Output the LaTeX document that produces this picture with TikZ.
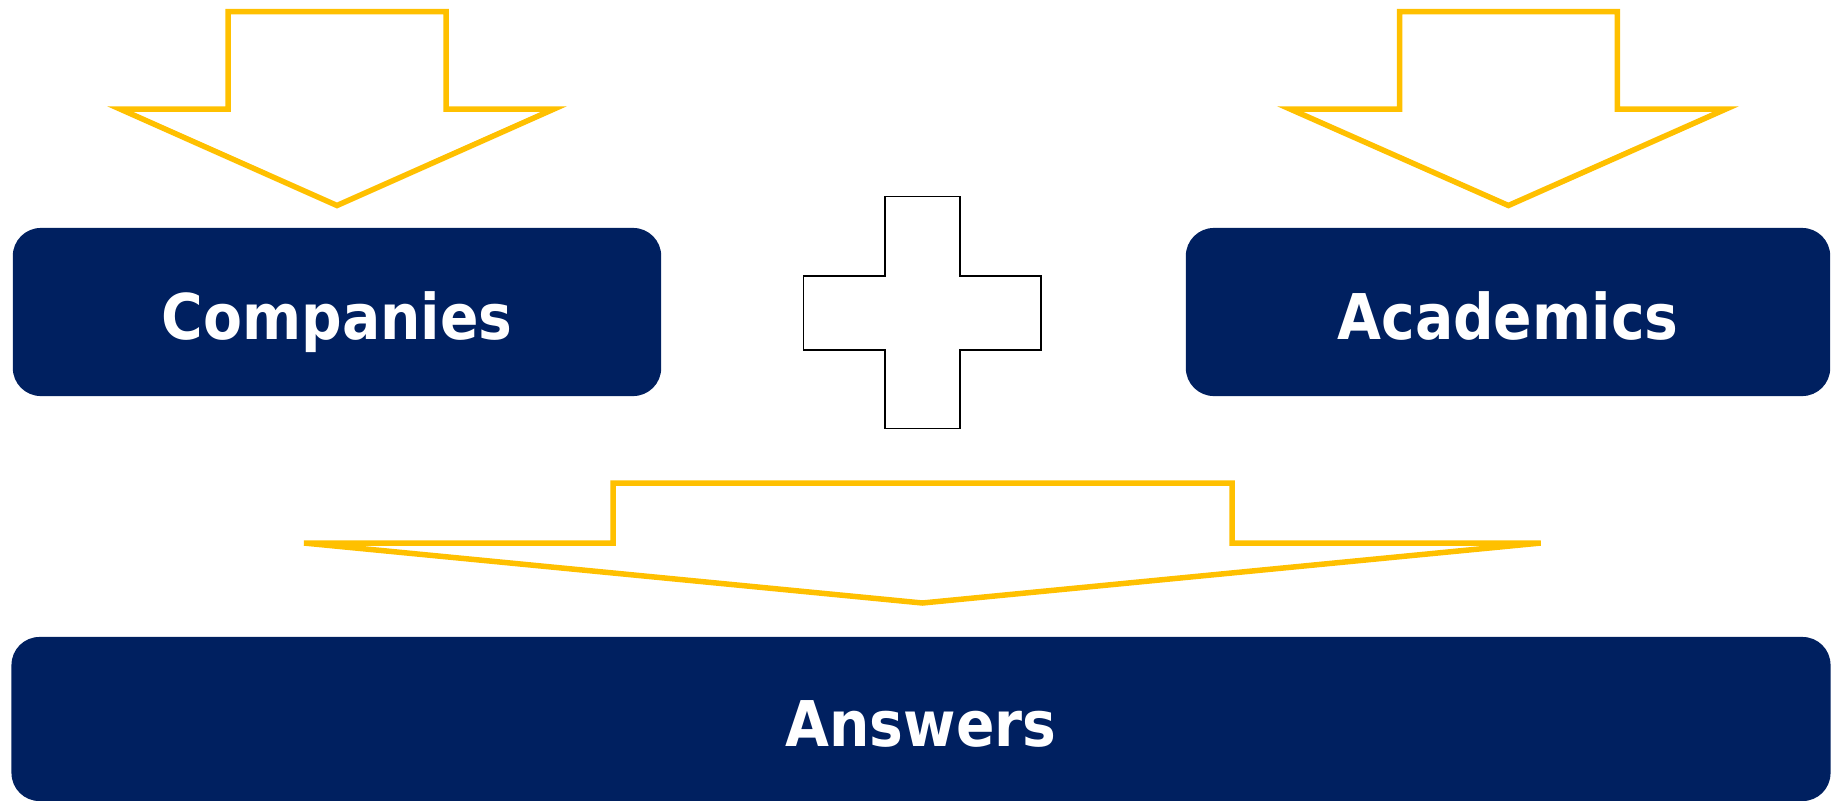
\documentclass[tikz,border=0pt]{standalone}
\usepackage{fontspec}
\newfontfamily\boxfont{DejaVu Sans Condensed}[BoldFont={DejaVu Sans Condensed Bold}]
\definecolor{navy}{HTML}{002060}
\definecolor{gold}{HTML}{FFC000}
\begin{document}
\begin{tikzpicture}[x=0.01cm,y=-0.01cm,
  block/.style={fill=navy, rounded corners=0.28cm, inner sep=0pt, text=white,
    font=\boxfont\bfseries\fontsize{17.93}{20}\selectfont,
    text height=0.54cm, text depth=0pt, align=center},
  bigarrow/.style={draw=gold, line width=0.055cm, fill=white},
  plusshape/.style={draw=black, line width=0.45pt, fill=white}]
\useasboundingbox (0,0) rectangle (1831,800);
\clip (0,0) rectangle (1831,800);
% boxes
\node[block, minimum width=6.48cm, minimum height=1.68cm] (companies) at (337,312) {Companies};
\node[block, minimum width=6.44cm, minimum height=1.68cm] (academics) at (1508,312) {Academics};
\node[block, minimum width=18.18cm, minimum height=1.64cm] (answers) at (921,719) {Answers};
% down arrows
\draw[bigarrow] (228,11.7) -- (446,11.7) -- (446,109) -- (554,109) -- (337,205.5) -- (120,109) -- (228,109) -- cycle;
\draw[bigarrow] (1399.5,11.7) -- (1617.3,11.7) -- (1617.3,109) -- (1726,109) -- (1508.4,205.5) -- (1290,109) -- (1399.5,109) -- cycle;
\draw[bigarrow] (613,483) -- (1232,483) -- (1232,543) -- (1540.7,543) -- (922.4,603) -- (304,543) -- (613,543) -- cycle;
% plus sign
\draw[plusshape] (885,196.7) -- (960,196.7) -- (960,276) -- (1041,276) -- (1041,350) -- (960,350) -- (960,428.3) -- (885,428.3) -- (885,350) -- (803.3,350) -- (803.3,276) -- (885,276) -- cycle;
\end{tikzpicture}
\end{document}
